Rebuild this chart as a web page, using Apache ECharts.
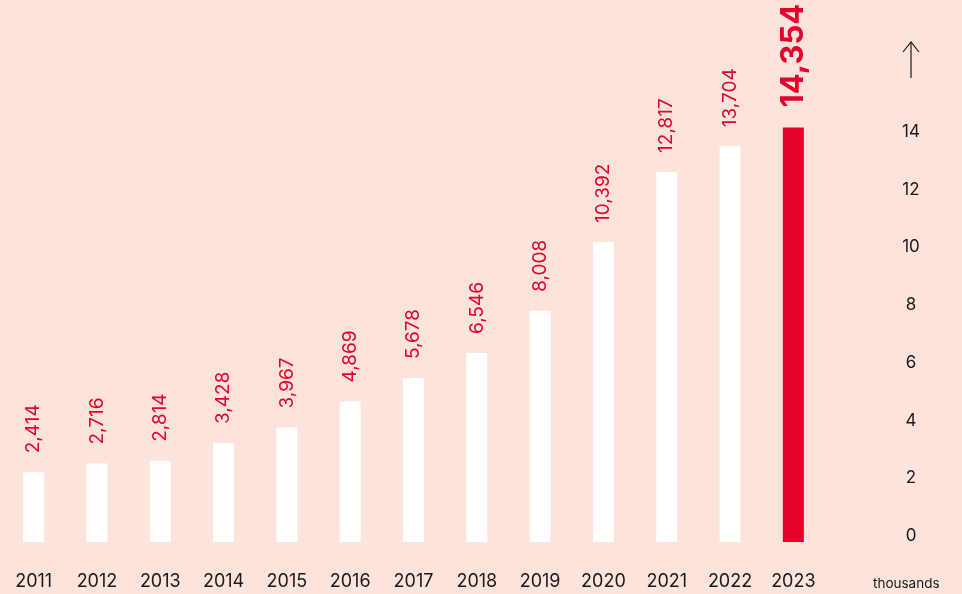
<!DOCTYPE html>
<html>
<head>
<meta charset="utf-8">
<script src="https://cdn.jsdelivr.net/npm/echarts@6/dist/echarts.min.js"></script>
<style>
  html, body { margin: 0; padding: 0; background: #fce3dc; }
  #chart { width: 962px; height: 594px; }
</style>
</head>
<body>
<div id="chart"></div>
<script>
// data
var years = ['2011', '2012', '2013', '2014', '2015', '2016', '2017', '2018', '2019', '2020', '2021', '2022', '2023'];
var values = [2414, 2716, 2814, 3428, 3967, 4869, 5678, 6546, 8008, 10392, 12817, 13704, 14354];
var yTicks = [0, 2, 4, 6, 8, 10, 12, 14];

var red = '#e4032a';
var font = 'Inter';

var chart = echarts.init(document.getElementById('chart'));

var barData = values.map(function (v, i) {
    var last = i === values.length - 1;
    return {
        value: v / 1000,
        raw: v,
        itemStyle: { color: last ? red : '#ffffff' },
        label: last ? { fontSize: 31, fontWeight: 'bold', distance: 20 } : {}
    };
});

chart.setOption({
    backgroundColor: '#fce3dc',
    animation: false,
    grid: { left: 2, right: 137, top: 80, bottom: 52 },
    xAxis: {
        type: 'category',
        data: years,
        axisLine: { show: false },
        axisTick: { show: false },
        axisLabel: { color: '#1a1a1a', fontSize: 18, fontFamily: font, margin: 31 }
    },
    yAxis: {
        type: 'value',
        position: 'right',
        min: 0,
        max: 16,
        interval: 2,
        splitLine: { show: false },
        axisLine: { show: false },
        axisTick: { show: false },
        axisLabel: {
            color: '#1a1a1a', fontSize: 17, fontFamily: font, margin: 86, align: 'center',
            verticalAlign: 'bottom', lineHeight: 12,
            formatter: function (v) { return yTicks.indexOf(v) >= 0 ? String(v) : ''; }
        }
    },
    series: [{
        type: 'bar',
        barWidth: 21,
        data: barData,
        label: {
            show: true,
            position: 'top',
            rotate: 90,
            align: 'left',
            verticalAlign: 'middle',
            distance: 19,
            color: red,
            fontSize: 19,
            fontFamily: font,
            formatter: function (p) { return p.data.raw.toLocaleString('en-US'); }
        }
    }],
    graphic: [
        {
            type: 'polyline',
            shape: { points: [[911, 78], [911, 42]] },
            style: { stroke: '#1a1a1a', lineWidth: 1.2, fill: null }
        },
        {
            type: 'polyline',
            shape: { points: [[903, 52], [911, 42], [919, 52]] },
            style: { stroke: '#1a1a1a', lineWidth: 1.2, fill: null }
        },
        {
            type: 'text',
            left: 873,
            top: 577,
            style: { text: 'thousands', fill: '#1a1a1a', fontSize: 13.5, fontFamily: font }
        }
    ]
});
</script>
</body>
</html>
